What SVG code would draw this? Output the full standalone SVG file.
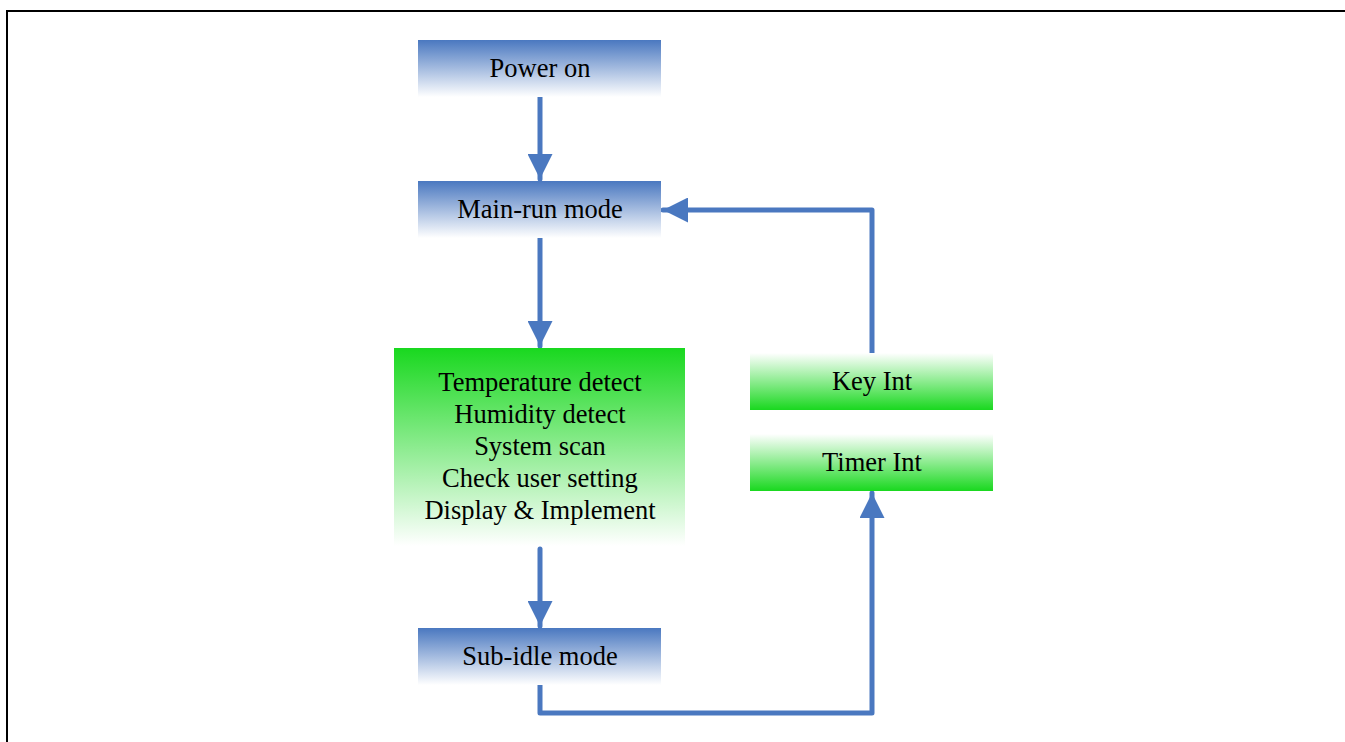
<svg xmlns="http://www.w3.org/2000/svg" width="1345" height="742" viewBox="0 0 1345 742">
  <style>
    .label { font-family: "Liberation Serif", "Times New Roman", serif; font-size: 26.5px; fill: #000; text-anchor: middle; }
    .conn { fill: none; stroke: #4a78c0; stroke-width: 5; stroke-linejoin: round; stroke-linecap: round; }
  </style>
  <defs>
    <linearGradient id="blueFade" x1="0" y1="0" x2="0" y2="1">
      <stop offset="0" stop-color="#4a78c0"/>
      <stop offset="1" stop-color="#ffffff"/>
    </linearGradient>
    <linearGradient id="greenFade" x1="0" y1="0" x2="0" y2="1">
      <stop offset="0" stop-color="#19d81f"/>
      <stop offset="1" stop-color="#ffffff"/>
    </linearGradient>
    <linearGradient id="greenRise" x1="0" y1="1" x2="0" y2="0">
      <stop offset="0" stop-color="#19d81f"/>
      <stop offset="1" stop-color="#ffffff"/>
    </linearGradient>
    <marker id="head" viewBox="0 0 10 10" refX="10" refY="5" markerWidth="5" markerHeight="5" markerUnits="strokeWidth" orient="auto">
      <path d="M0,0 L10,5 L0,10 Z" fill="#4a78c0"/>
    </marker>
  </defs>

  <rect width="1345" height="742" fill="#ffffff"/>
  <!-- outer frame -->
  <path d="M7,742 V11 H1345" fill="none" stroke="#000" stroke-width="2"/>

  <g id="connectors">
    <path class="conn" d="M540,97 V179" marker-end="url(#head)"/>
    <path class="conn" d="M540,238 V346" marker-end="url(#head)"/>
    <path class="conn" d="M540,549 V626" marker-end="url(#head)"/>
    <path class="conn" d="M540,685 V713 H872 V493" marker-end="url(#head)"/>
    <path class="conn" d="M872,353 V210 H663" marker-end="url(#head)"/>
  </g>

  <g id="power-on">
    <rect x="418" y="40" width="243" height="57" fill="url(#blueFade)"/>
    <text class="label" x="540" y="77">Power on</text>
  </g>

  <g id="main-run">
    <rect x="418" y="181" width="243" height="57" fill="url(#blueFade)"/>
    <text class="label" x="540" y="218">Main-run mode</text>
  </g>

  <g id="tasks">
    <rect x="394" y="348" width="291" height="198" fill="url(#greenFade)"/>
    <text class="label" x="540" y="391">Temperature detect</text>
    <text class="label" x="540" y="423">Humidity detect</text>
    <text class="label" x="540" y="455">System scan</text>
    <text class="label" x="540" y="487">Check user setting</text>
    <text class="label" x="540" y="519">Display &amp; Implement</text>
  </g>

  <g id="sub-idle">
    <rect x="418" y="628" width="243" height="57" fill="url(#blueFade)"/>
    <text class="label" x="540" y="665">Sub-idle mode</text>
  </g>

  <g id="key-int">
    <rect x="750" y="353" width="243" height="57" fill="url(#greenRise)"/>
    <text class="label" x="872" y="390">Key Int</text>
  </g>

  <g id="timer-int">
    <rect x="750" y="434" width="243" height="57" fill="url(#greenRise)"/>
    <text class="label" x="872" y="471">Timer Int</text>
  </g>
</svg>
